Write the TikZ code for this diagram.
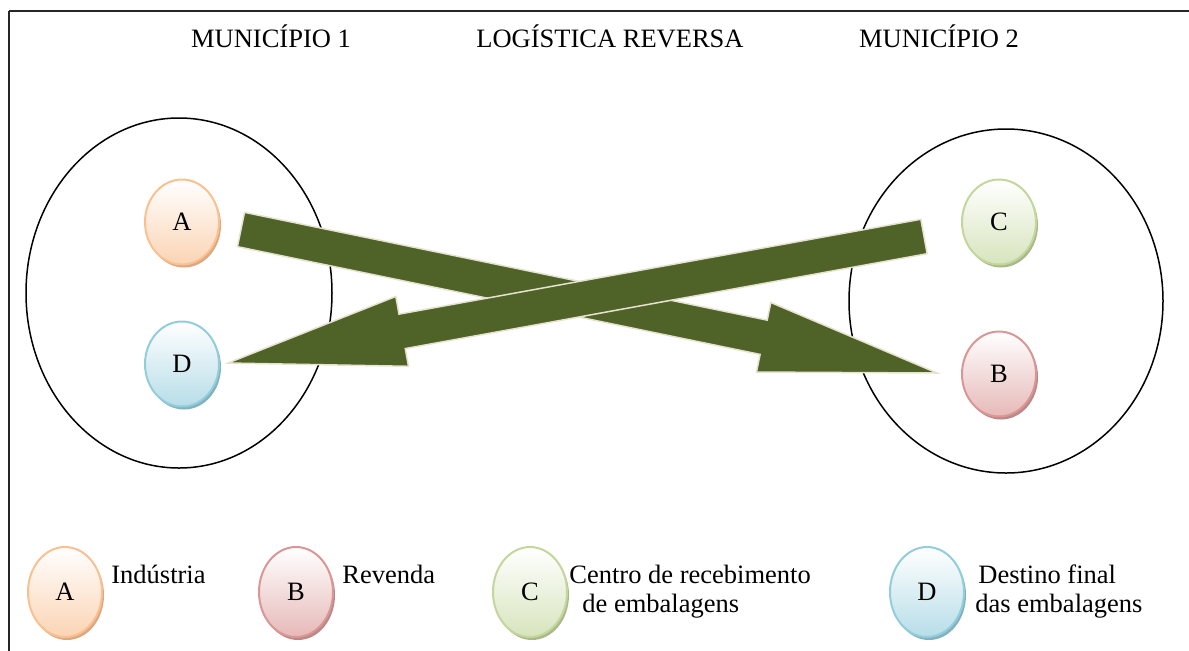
\documentclass[tikz,border=0pt]{standalone}
\usepackage{fontspec}
\setmainfont{Liberation Serif}
\usetikzlibrary{calc, shapes.geometric, shadows}

\definecolor{arrowgreen}{HTML}{4F6228}
\definecolor{arrowedge}{HTML}{E6E2CF}
\definecolor{Aline}{HTML}{FAC090}
\definecolor{Afill}{HTML}{FBD4B4}
\definecolor{Ashade}{HTML}{DDA77F}
\definecolor{Bline}{HTML}{D99694}
\definecolor{Bfill}{HTML}{E6B9B8}
\definecolor{Bshade}{HTML}{BC8887}
\definecolor{Cline}{HTML}{C3D69B}
\definecolor{Cfill}{HTML}{D7E4BD}
\definecolor{Cshade}{HTML}{A9B98A}
\definecolor{Dline}{HTML}{92CDDC}
\definecolor{Dfill}{HTML}{B7DDE8}
\definecolor{Dshade}{HTML}{83B1BE}

\newcommand{\blockarrow}[2]{%
  \coordinate (hb) at ($(#2)!88.5pt!(#1)$);
  \filldraw[bigarrow] ($(#1)!8.75pt!90:(#2)$) -- ($(hb)!8.75pt!90:(#2)$)
    -- ($(hb)!17.75pt!90:(#2)$) -- (#2) -- ($(hb)!17.75pt!-90:(#2)$)
    -- ($(hb)!8.75pt!-90:(#2)$) -- ($(#1)!8.75pt!-90:(#2)$) -- cycle;}

\begin{document}
\begin{tikzpicture}[x=0.5pt, y=-0.5pt,
  every node/.style={font=\fontsize{13.25}{15.9}\selectfont},
  frameline/.style={line width=1.1pt, black!85},
  municipio/.style={ellipse, draw, line width=0.75pt, inner sep=0pt},
  site/.style={ellipse, draw=#1line, line width=1pt, top color=white, bottom color=#1fill,
    drop shadow={shadow xshift=1pt, shadow yshift=-1.5pt, fill=#1shade, opacity=1},
    minimum width=37pt, minimum height=42.5pt, inner sep=0pt},
  legend/.style={site=#1, minimum height=45pt},
  legtext/.style={anchor=base west, inner sep=0pt},
  bigarrow/.style={fill=arrowgreen, draw=arrowedge, line width=0.75pt, line join=miter}]

  \useasboundingbox (0,0) rectangle (1189,650);

  \draw[frameline] (9,11) -- (1195,11);
  \draw[frameline] (9,11) -- (9,655);

  \node[anchor=base] (title1) at (271,47) {MUNICÍPIO 1};
  \node[anchor=base] (title) at (610,47) {LOGÍSTICA REVERSA};
  \node[anchor=base] (title2) at (939,47) {MUNICÍPIO 2};

  \node[municipio, minimum width=153pt, minimum height=175pt] (mun1) at (179,293) {};
  \node[municipio, minimum width=157pt, minimum height=172pt] (mun2) at (1006,301) {};

  \node[site=A] (A) at (182,222) {A};
  \node[site=D] (D) at (182,364) {D};
  \node[site=C] (C) at (999,222) {C};
  \node[site=B] (B) at (999,374) {B};

  \coordinate (tailAB) at (241,229.5);
  \coordinate (tipAB) at (937,373);
  \coordinate (tailCD) at (924,236.5);
  \coordinate (tipCD) at (228,363);

  \blockarrow{tailAB}{tipAB}
  \blockarrow{tailCD}{tipCD}

  \node[legend=A] (legA) at (65,592) {A};
  \node[legtext] (txtA) at (111,583) {Indústria};
  \node[legend=B] (legB) at (296,592) {B};
  \node[legtext] (txtB) at (342,583) {Revenda};
  \node[legend=C] (legC) at (530,592) {C};
  \node[legtext] (txtC) at (569,583) {Centro de recebimento};
  \node[legtext] (txtC2) at (582,612) {de embalagens};
  \node[legend=D] (legD) at (927,592) {D};
  \node[legtext] (txtD) at (978,583) {Destino final};
  \node[legtext] (txtD2) at (975,612) {das embalagens};

\end{tikzpicture}
\end{document}
